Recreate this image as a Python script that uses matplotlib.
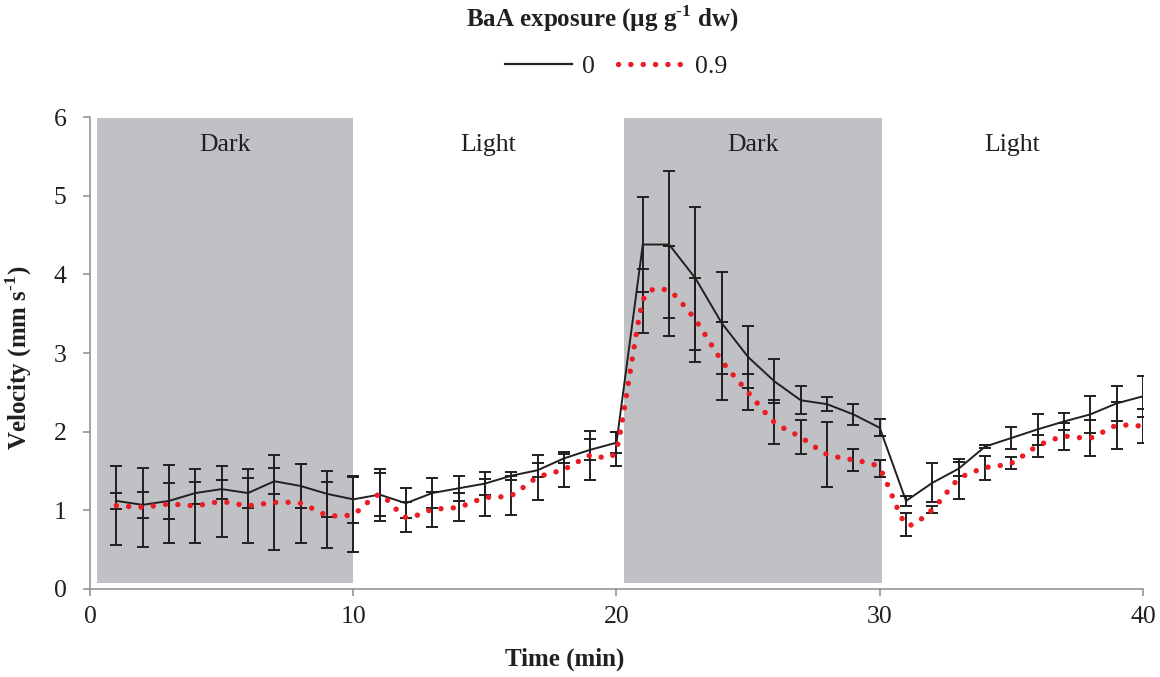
import numpy as np
import matplotlib
matplotlib.use("Agg")
import matplotlib.pyplot as plt
from matplotlib.path import Path
from matplotlib.patches import PathPatch
from matplotlib.lines import Line2D

plt.rcParams['font.family'] = ['Liberation Serif', 'DejaVu Serif']
plt.rcParams['mathtext.fontset'] = 'custom'
plt.rcParams['mathtext.rm'] = 'Liberation Serif'
plt.rcParams['mathtext.bf'] = 'Liberation Serif:bold'

# time (min)
time = np.arange(1, 41)

# BaA 0 µg/g
v0 = [1.12, 1.07, 1.12, 1.22, 1.27, 1.22, 1.37, 1.31, 1.21, 1.14,
      1.20, 1.09, 1.22, 1.28, 1.34, 1.44, 1.51, 1.66, 1.77, 1.86,
      4.38, 4.38, 3.95, 3.38, 2.95, 2.64, 2.40, 2.35, 2.22, 2.05,
      1.12, 1.35, 1.53, 1.81, 1.92, 2.03, 2.13, 2.22, 2.36, 2.45]
e0 = [0.10, 0.165, 0.23, 0.14, 0.12, 0.19, 0.165, 0.275, 0.29, 0.295,
      0.33, 0.19, 0.185, 0.155, 0.15, 0.05, 0.09, 0.06, 0.135, 0.135,
      0.60, 0.94, 0.91, 0.65, 0.40, 0.28, 0.175, 0.09, 0.135, 0.11,
      0.06, 0.25, 0.09, 0.02, 0.14, 0.20, 0.11, 0.24, 0.22, 0.26]

# BaA 0.9 µg/g
v09 = [1.06, 1.04, 1.08, 1.06, 1.11, 1.06, 1.10, 1.09, 0.94, 0.95,
       1.20, 0.91, 1.01, 1.04, 1.16, 1.19, 1.42, 1.52, 1.70, 1.78,
       3.66, 3.79, 3.42, 2.90, 2.50, 2.12, 1.93, 1.71, 1.64, 1.53,
       0.82, 1.01, 1.40, 1.54, 1.60, 1.82, 1.94, 1.92, 2.08, 2.07]
e09 = [0.50, 0.50, 0.50, 0.47, 0.455, 0.47, 0.61, 0.50, 0.425, 0.48,
       0.27, 0.19, 0.22, 0.175, 0.235, 0.25, 0.29, 0.22, 0.315, 0.22,
       0.41, 0.57, 0.53, 0.50, 0.23, 0.28, 0.215, 0.415, 0.14, 0.105,
       0.15, 0.05, 0.25, 0.15, 0.08, 0.14, 0.17, 0.23, 0.30, 0.22]

# dark periods
dark_start = [0.27, 20.28]
dark_end = [9.98, 30.07]
period_labels = ['Dark', 'Light', 'Dark', 'Light']
period_edges = [0.27, 9.98, 20.28, 30.07, 40]

txt = '#231f20'
red = '#ec1c24'
shade = '#c0c1c5'


def smooth_path(x, y, k=0.11):
    # bezier control points, roughly like excel's smoothed line
    p = np.column_stack([x, y]).astype(float)
    n = len(p)
    verts = [p[0]]
    for i in range(n - 1):
        pm = p[i - 1] if i > 0 else p[i]
        pn = p[i + 2] if i + 2 < n else p[i + 1]
        verts.append(p[i] + (p[i + 1] - pm) * k)
        verts.append(p[i + 1] - (pn - p[i]) * k)
        verts.append(p[i + 1])
    codes = [Path.MOVETO] + [Path.CURVE4] * (3 * (n - 1))
    return Path(verts, codes)


fig = plt.figure(figsize=(11.6, 6.77), dpi=100)
ax = fig.add_axes([0.0776, 0.130, 0.9077, 0.697])

for a, b in zip(dark_start, dark_end):
    ax.axvspan(a, b, ymin=0.08 / 6, ymax=5.99 / 6, color=shade, lw=0, zorder=0)

for i, lab in enumerate(period_labels):
    ax.text((period_edges[i] + period_edges[i + 1]) / 2, 5.64, lab,
            ha='center', va='center', fontsize=18.5, color=txt)

ax.errorbar(time, v0, yerr=e0, fmt='none', ecolor=txt, elinewidth=1.4,
            capsize=4.5, capthick=1.4, zorder=2)
ax.errorbar(time, v09, yerr=e09, fmt='none', ecolor=txt, elinewidth=1.4,
            capsize=4.5, capthick=1.4, zorder=2)
ax.plot(time, v0, color=txt, lw=1.4, zorder=3)

dots = (0, (0.01, 2.27))
pp = PathPatch(smooth_path(time, v09), facecolor='none', edgecolor=red,
               lw=3.9, linestyle=dots, capstyle='round', zorder=4)
ax.add_patch(pp)

ax.set_xlim(0, 40)
ax.set_ylim(0, 6)
ax.set_xticks([0, 10, 20, 30, 40])
ax.set_yticks(range(7))
for s in ['top', 'right']:
    ax.spines[s].set_visible(False)
for s in ['left', 'bottom']:
    ax.spines[s].set_color('#8c8c8c')
    ax.spines[s].set_linewidth(1.1)
ax.tick_params(axis='both', direction='out', length=5, width=1.1,
               color='#8c8c8c', labelsize=18.5, labelcolor=txt)
ax.tick_params(axis='x', pad=7)
ax.tick_params(axis='y', pad=12)

ax.set_xlabel('Time (min)', fontsize=18, fontweight='bold', color=txt)
ax.xaxis.set_label_coords(0.451, -0.125)
ax.set_ylabel('Velocity (mm s$^{\\mathbf{\u20101}}$)', fontsize=18,
              fontweight='bold', color=txt)
ax.yaxis.set_label_coords(-0.053, 0.49)

fig.text(0.519, 0.973, 'BaA exposure (µg g$^{\\mathbf{\u20101}}$ dw)', ha='center',
         va='center', fontsize=18, fontweight='bold', color=txt)

handles = [Line2D([], [], color=txt, lw=1.6),
           Line2D([], [], color=red, lw=3.9, linestyle=dots,
                  dash_capstyle='round')]
fig.legend(handles, ['0', '0.9'], loc='center', bbox_to_anchor=(0.531, 0.902),
           ncol=2, frameon=False, fontsize=18.5, handlelength=2.6,
           handletextpad=0.4, columnspacing=0.9, labelcolor=txt)

fig.savefig('out.png', dpi=100)
